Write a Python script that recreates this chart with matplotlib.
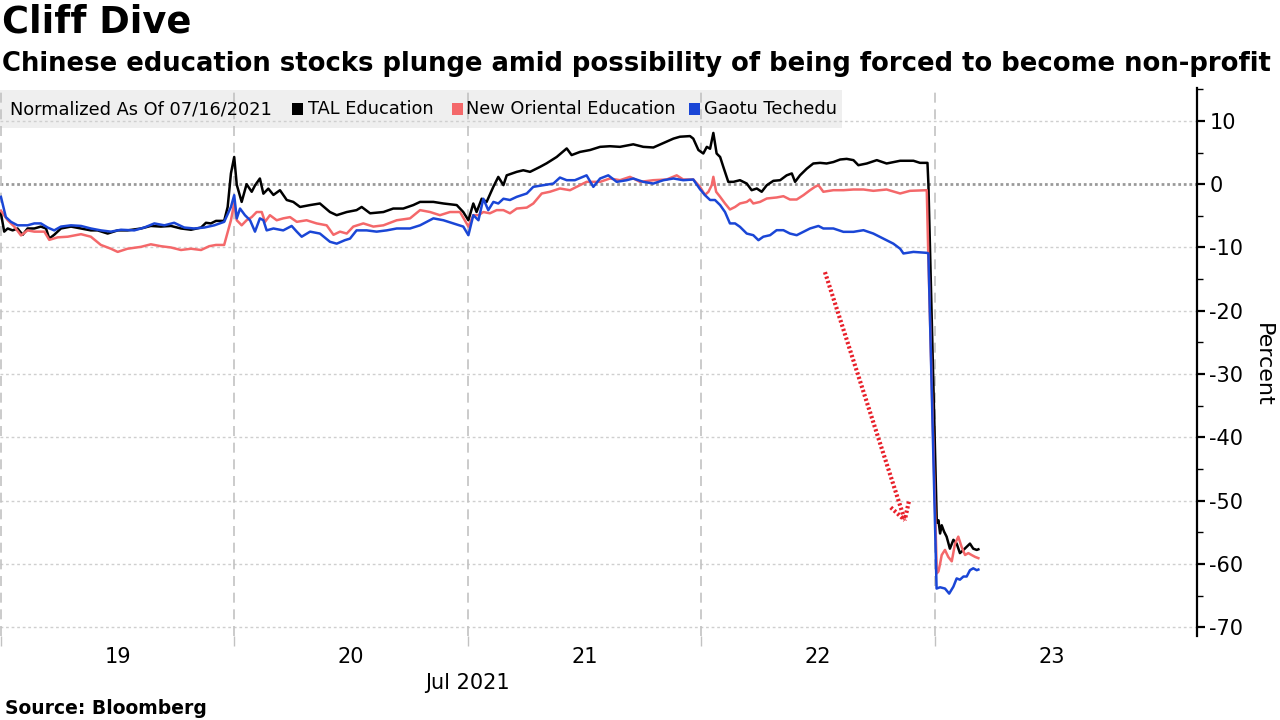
import matplotlib
matplotlib.use('Agg')
import matplotlib.pyplot as plt
import matplotlib.patches as mpatches
from matplotlib.transforms import blended_transform_factory
import numpy as np

plt.rcParams['font.family'] = ['DejaVu Sans']
plt.rcParams['axes.unicode_minus'] = False

# ---------------- data (x in trading days since Jul 19 open, y in percent) ----
day_labels = ['19', '20', '21', '22', '23']
month_label = 'Jul 2021'
series_names = ['TAL Education', 'New Oriental Education', 'Gaotu Techedu']

tal_x = [0.000, 0.014, 0.029, 0.050, 0.071, 0.093, 0.114, 0.143, 0.171, 0.193, 0.207, 0.228,
         0.257, 0.300, 0.343, 0.385, 0.414, 0.457, 0.500, 0.542, 0.600, 0.642, 0.685, 0.728,
         0.771, 0.814, 0.857, 0.878, 0.899, 0.921, 0.956, 0.971, 0.985, 0.999,
         1.010, 1.031, 1.052, 1.074, 1.088, 1.109, 1.124, 1.145, 1.167, 1.195, 1.224, 1.252,
         1.281, 1.324, 1.366, 1.409, 1.438, 1.481, 1.523, 1.545, 1.581, 1.638, 1.680, 1.723,
         1.766, 1.795, 1.852, 1.895, 1.952, 1.980,
         2.002, 2.023, 2.037, 2.059, 2.080, 2.109, 2.130, 2.152, 2.166, 2.209, 2.237, 2.266,
         2.309, 2.337, 2.380, 2.423, 2.444, 2.480, 2.523, 2.566, 2.608, 2.651, 2.708, 2.751,
         2.794, 2.837, 2.880, 2.908, 2.951, 2.965, 2.987,
         3.008, 3.023, 3.037, 3.051, 3.065, 3.080, 3.094, 3.115, 3.137, 3.165, 3.194, 3.215,
         3.237, 3.258, 3.280, 3.308, 3.337, 3.365, 3.387, 3.401, 3.422, 3.451, 3.479, 3.508,
         3.536, 3.565, 3.594, 3.622, 3.651, 3.672, 3.708, 3.751, 3.793, 3.851, 3.908, 3.936,
         3.968, 3.972,
         4.008, 4.015, 4.022, 4.029, 4.039, 4.050, 4.064, 4.079, 4.093, 4.107, 4.122, 4.136,
         4.150, 4.164, 4.179, 4.186]
tal_y = [-4.6, -7.5, -7.0, -7.3, -7.0, -8.0, -7.0, -7.0, -6.7, -7.0, -8.6, -8.0,
         -7.0, -6.7, -7.0, -7.3, -7.3, -7.8, -7.3, -7.3, -7.0, -6.6, -6.7, -6.6,
         -7.0, -7.2, -6.85, -6.1, -6.2, -5.8, -5.8, -3.6, 1.7, 4.3,
         -0.1, -2.8, 0.0, -1.2, -0.2, 0.9, -1.5, -0.7, -1.7, -0.95, -2.5, -2.8,
         -3.6, -3.3, -3.05, -4.4, -4.9, -4.4, -4.1, -3.6, -4.6, -4.4, -3.85, -3.85,
         -3.3, -2.8, -2.8, -3.05, -3.3, -4.4,
         -5.7, -3.05, -4.4, -2.3, -2.8, -0.4, 1.15, -0.15, 1.4, 1.95, 2.2, 1.95,
         2.74, 3.3, 4.3, 5.65, 4.6, 5.1, 5.4, 5.9, 6.0, 5.9, 6.3, 5.9,
         5.8, 6.5, 7.2, 7.5, 7.6, 7.2, 5.4,
         4.85, 5.9, 5.6, 8.1, 4.85, 4.3, 2.7, 0.37, 0.37, 0.63, 0.1, -0.95,
         -0.68, -1.2, -0.16, 0.53, 0.63, 1.4, 1.7, 0.37, 1.4, 2.45, 3.27, 3.37,
         3.27, 3.5, 3.9, 4.0, 3.8, 3.0, 3.27, 3.8, 3.27, 3.7, 3.7, 3.37,
         3.37, 0.0,
         -53.5, -53.1, -55.2, -53.9, -54.9, -55.7, -57.6, -56.2, -56.8, -58.3, -57.8, -57.3,
         -56.8, -57.6, -57.8, -57.7]

edu_x = [0.000, 0.029, 0.057, 0.086, 0.114, 0.143, 0.186, 0.207, 0.243, 0.286, 0.343, 0.385,
         0.428, 0.471, 0.500, 0.542, 0.600, 0.642, 0.685, 0.728, 0.771, 0.814, 0.857, 0.892,
         0.921, 0.956, 0.985, 0.999,
         1.010, 1.031, 1.052, 1.074, 1.095, 1.117, 1.131, 1.152, 1.181, 1.209, 1.238, 1.267,
         1.309, 1.352, 1.395, 1.424, 1.452, 1.481, 1.509, 1.552, 1.595, 1.638, 1.695, 1.752,
         1.795, 1.838, 1.880, 1.923, 1.966,
         2.002, 2.023, 2.045, 2.066, 2.094, 2.123, 2.152, 2.180, 2.209, 2.252, 2.280, 2.316,
         2.351, 2.394, 2.437, 2.480, 2.508, 2.566, 2.608, 2.651, 2.694, 2.737, 2.794, 2.851,
         2.894, 2.922, 2.965, 2.994,
         3.015, 3.030, 3.044, 3.051, 3.063, 3.080, 3.101, 3.122, 3.144, 3.165, 3.194, 3.208,
         3.222, 3.251, 3.280, 3.322, 3.351, 3.379, 3.408, 3.437, 3.465, 3.486, 3.501, 3.522,
         3.565, 3.608, 3.651, 3.694, 3.736, 3.793, 3.851, 3.893, 3.965, 3.971,
         4.008, 4.015, 4.022, 4.029, 4.043, 4.057, 4.072, 4.086, 4.100, 4.114, 4.129, 4.143,
         4.157, 4.172, 4.186]
edu_y = [-4.2, -5.7, -6.7, -8.1, -7.3, -7.5, -7.5, -8.8, -8.4, -8.3, -7.9, -8.3,
         -9.6, -10.2, -10.7, -10.2, -9.9, -9.5, -9.8, -10.0, -10.4, -10.2, -10.4, -9.8,
         -9.6, -9.6, -5.7, -3.0,
         -5.7, -6.5, -5.7, -5.2, -4.4, -4.4, -5.95, -4.9, -5.7, -5.4, -5.2, -5.95,
         -5.7, -6.2, -6.5, -8.0, -7.5, -7.8, -6.7, -6.2, -6.7, -6.5, -5.7, -5.4,
         -4.1, -4.4, -4.9, -4.4, -4.4,
         -6.7, -4.9, -4.9, -4.4, -4.6, -4.1, -4.1, -4.6, -3.85, -3.7, -3.05, -1.47,
         -1.2, -0.68, -0.95, -0.16, 0.37, 0.37, 0.9, 0.63, 1.16, 0.37, 0.63, 0.74,
         1.4, 0.74, 0.74, -0.42,
         -1.7, -1.2, -0.16, 1.16, -1.2, -2.0, -3.05, -4.0, -3.6, -3.05, -2.8, -2.42,
         -3.05, -2.8, -2.26, -2.1, -1.9, -2.42, -2.42, -1.73, -0.95, -0.42, -0.16, -1.2,
         -0.95, -0.95, -0.84, -0.84, -1.05, -0.84, -1.47, -1.05, -0.95, -10.4,
         -61.5, -61.2, -60.0, -58.6, -57.8, -58.9, -59.6, -56.8, -55.7, -57.3, -58.6, -58.3,
         -58.6, -58.9, -59.1]

gotu_x = [0.000, 0.021, 0.043, 0.071, 0.114, 0.143, 0.171, 0.200, 0.228, 0.257, 0.300, 0.343,
          0.385, 0.428, 0.471, 0.514, 0.571, 0.614, 0.657, 0.700, 0.742, 0.785, 0.828, 0.871,
          0.914, 0.956, 0.985, 0.999,
          1.010, 1.024, 1.045, 1.067, 1.088, 1.109, 1.124, 1.138, 1.167, 1.209, 1.245, 1.267,
          1.288, 1.324, 1.366, 1.409, 1.438, 1.473, 1.495, 1.523, 1.566, 1.609, 1.652, 1.695,
          1.752, 1.795, 1.852, 1.895, 1.937, 1.980,
          2.002, 2.023, 2.045, 2.066, 2.087, 2.109, 2.130, 2.152, 2.180, 2.209, 2.252, 2.280,
          2.323, 2.366, 2.394, 2.423, 2.458, 2.508, 2.537, 2.566, 2.601, 2.637, 2.680, 2.708,
          2.751, 2.794, 2.837, 2.880, 2.922, 2.965, 2.994,
          3.015, 3.037, 3.058, 3.080, 3.101, 3.122, 3.144, 3.165, 3.194, 3.222, 3.244, 3.265,
          3.294, 3.322, 3.351, 3.379, 3.408, 3.437, 3.465, 3.501, 3.522, 3.565, 3.608, 3.651,
          3.694, 3.736, 3.779, 3.822, 3.851, 3.865, 3.908, 3.965, 3.972,
          4.007, 4.022, 4.043, 4.061, 4.079, 4.093, 4.107, 4.122, 4.136, 4.150, 4.164, 4.179,
          4.186]
gotu_y = [-2.0, -5.2, -5.95, -6.5, -6.5, -6.2, -6.2, -6.85, -7.3, -6.7, -6.5, -6.6,
          -7.0, -7.3, -7.5, -7.2, -7.3, -6.85, -6.2, -6.5, -6.1, -6.85, -7.0, -6.85,
          -6.5, -5.95, -3.6, -1.74,
          -5.4, -3.85, -4.9, -5.7, -7.5, -5.4, -5.7, -7.3, -7.0, -7.3, -6.6, -7.5,
          -8.3, -7.5, -7.8, -9.1, -9.4, -8.85, -8.6, -7.3, -7.3, -7.5, -7.3, -7.0,
          -7.0, -6.5, -5.4, -5.7, -6.2, -6.7,
          -8.06, -4.9, -5.7, -2.3, -4.1, -2.8, -3.05, -2.3, -2.5, -2.0, -1.47, -0.42,
          -0.16, 0.1, 1.05, 0.63, 0.63, 1.4, -0.42, 0.9, 1.4, 0.37, 0.63, 0.9,
          0.37, 0.1, 0.63, 0.9, 0.63, 0.74, -0.8,
          -1.73, -2.5, -2.5, -3.3, -4.4, -6.2, -6.2, -6.74, -7.8, -8.06, -8.85, -8.3,
          -8.06, -7.27, -7.27, -7.8, -8.06, -7.53, -7.0, -6.6, -7.0, -7.0, -7.53, -7.53,
          -7.27, -7.8, -8.6, -9.4, -10.2, -10.95, -10.7, -10.85, -10.95,
          -63.9, -63.7, -63.9, -64.7, -63.6, -62.3, -62.5, -62.0, -62.0, -61.0, -60.7, -61.0,
          -60.9]

y_major = [-70, -60, -50, -40, -30, -20, -10, 0, 10]
y_minor = [-65, -55, -45, -35, -25, -15, -5, 5, 15]

colors = ['#000000', '#f4686a', '#1a46d6']

# ---------------- figure ----------------
W, H = 1280, 720
fig = plt.figure(figsize=(12.8, 7.2), dpi=100)
ax = fig.add_axes([0.0, 1 - 636 / H, 1196.7 / W, (636 - 88) / H])
ax.set_xlim(-0.004, 5.121)
ax.set_ylim(-71.4, 15.2)

# background legend band
ax.add_patch(mpatches.Rectangle((0, 0.927), 0.704, 0.069, transform=ax.transAxes,
                                facecolor='#efefef', edgecolor='none', zorder=0.2))

# grid
for v in y_major:
    if v == 0:
        ax.axhline(v, color='#9a9a9a', lw=2.0, ls=(0, (1, 1)), zorder=1)
    else:
        ax.axhline(v, color='#cfcfcf', lw=1.0, ls=(0, (2, 2)), zorder=1)
for d in range(0, 5):
    ax.axvline(d, color='#c2c2c2', lw=1.2, ls=(0, (6, 4)), zorder=1)

# series
for xs, ys, c in [(tal_x, tal_y, colors[0]), (edu_x, edu_y, colors[1]), (gotu_x, gotu_y, colors[2])]:
    ax.plot(xs, ys, color=c, lw=1.8, zorder=3, solid_joinstyle='round')

# dotted arrow annotation (drawn in display space, converted back to data)
arrow_start = (3.529, -13.9)
arrow_end = (3.871, -53.1)
fig.canvas.draw()
p0 = ax.transData.transform(arrow_start)
p1 = ax.transData.transform(arrow_end)
vec = (p1 - p0) / np.hypot(*(p1 - p0))
head_len = 19
inv = ax.transData.inverted()
arrow_kw = dict(color='#e8202a', lw=3.0, ls=(0, (0.55, 0.55)), solid_capstyle='butt',
                dash_capstyle='butt', zorder=4)
shaft = inv.transform(np.array([p0, p1]))
ax.plot(shaft[:, 0], shaft[:, 1], **arrow_kw)
for ang in (np.deg2rad(30), -np.deg2rad(30)):
    rot = np.array([[np.cos(ang), -np.sin(ang)], [np.sin(ang), np.cos(ang)]])
    tip_back = p1 - head_len * (rot @ vec)
    seg = inv.transform(np.array([tip_back, p1]))
    ax.plot(seg[:, 0], seg[:, 1], **arrow_kw)

# spines / ticks
for s in ['top', 'left', 'bottom']:
    ax.spines[s].set_visible(False)
ax.spines['right'].set_linewidth(1.6)
ax.yaxis.tick_right()
ax.set_yticks(y_major)
ax.set_yticks(y_minor, minor=True)
ax.set_yticklabels([str(v) for v in y_major])
ax.tick_params(axis='y', which='major', direction='out', length=6, width=1.6,
               labelsize=15, pad=3, colors='black')
ax.tick_params(axis='y', which='minor', direction='out', length=4, width=1.0)

ax.set_xticks([0, 1, 2, 3, 4])
ax.set_xticklabels([])
ax.set_xticks([0.5, 1.5, 2.5, 3.5, 4.5], minor=True)
ax.set_xticklabels(day_labels, minor=True)
ax.tick_params(axis='x', which='major', direction='out', length=7, width=1, color='#c2c2c2')
ax.tick_params(axis='x', which='minor', length=0, labelsize=15, pad=8)

trans = blended_transform_factory(ax.transData, ax.transAxes)
ax.text(1.996, -0.086, month_label, transform=trans, ha='center', va='center', fontsize=15)

# texts
fig.text(2 / W, 1 - 22 / H, 'Cliff Dive', fontsize=26.5, fontweight='bold', va='center', ha='left')
fig.text(2 / W, 1 - 64 / H,
         'Chinese education stocks plunge amid possibility of being forced to become non-profit',
         fontsize=18.6, fontweight='bold', va='center', ha='left')
fig.text(5 / W, 1 - 708 / H, 'Source: Bloomberg', fontsize=13.5, fontweight='bold',
         va='center', ha='left')
fig.text(1263 / W, 1 - 365 / H, 'Percent', rotation=270, fontsize=16, va='center', ha='center')

# legend row
ly = 1 - 109 / H
fig.text(10 / W, ly, 'Normalized As Of 07/16/2021', fontsize=12.8, va='center', ha='left')
sq_x = [292, 452, 689]
tx_x = [308, 466, 704]
for name, c, sx, tx in zip(series_names, colors, sq_x, tx_x):
    fig.patches.append(mpatches.Rectangle((sx / W, 1 - 115 / H), 11 / W, 12 / H,
                                          transform=fig.transFigure, facecolor=c,
                                          edgecolor='none'))
    fig.text(tx / W, ly, name, fontsize=12.8, va='center', ha='left')

fig.savefig('out.png', dpi=100)
